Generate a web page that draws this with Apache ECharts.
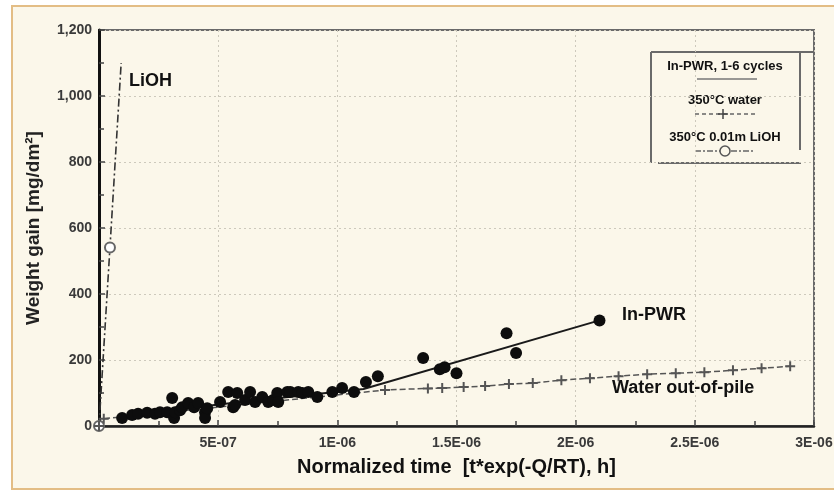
<!DOCTYPE html>
<html>
<head>
<meta charset="utf-8">
<script src="https://cdn.jsdelivr.net/npm/echarts@6.0.0/dist/echarts.min.js"></script>
<style>
  html, body { margin: 0; padding: 0; background: #ffffff; overflow: hidden; }
  #frame {
    position: absolute; left: 11px; top: 5px; width: 830px; height: 481px;
    border: 2px solid #e3bd85; background: #fbf7ea;
  }
  #main { position: absolute; left: 0; top: 0; width: 834px; height: 495px; }
</style>
</head>
<body>
<div id="frame"></div>
<div id="main"></div>
<script>
// tick labels on the time axis (one per 5E-07)
const xTickLabels = ["", "5E-07", "1E-06", "1.5E-06", "2E-06", "2.5E-06", "3E-06"];

// In-PWR measured points (normalized time, weight gain)
const pwrTime = [
  9.7e-8, 1.39e-7, 1.64e-7, 2.02e-7, 2.35e-7, 2.56e-7, 2.86e-7, 3.07e-7, 3.15e-7, 3.19e-7,
  3.40e-7, 3.49e-7, 3.74e-7, 3.99e-7, 4.16e-7, 4.45e-7, 4.45e-7, 4.54e-7, 5.08e-7, 5.42e-7,
  5.63e-7, 5.71e-7, 5.80e-7, 6.13e-7, 6.34e-7, 6.55e-7, 6.85e-7, 7.10e-7, 7.31e-7, 7.48e-7,
  7.52e-7, 7.90e-7, 8.03e-7, 8.36e-7, 8.53e-7, 8.78e-7, 9.16e-7, 9.79e-7, 1.02e-6, 1.07e-6,
  1.12e-6, 1.17e-6, 1.36e-6, 1.43e-6, 1.45e-6, 1.50e-6, 1.71e-6, 1.75e-6, 2.10e-6
];
const pwrGain = [
  24, 33, 37, 40, 37, 42, 42, 85, 24, 42,
  48, 57, 70, 57, 70, 42, 24, 54, 73, 103,
  57, 64, 100, 79, 103, 73, 88, 73, 79, 100,
  73, 103, 103, 103, 100, 103, 88, 103, 115, 103,
  133, 151, 206, 172, 178, 160, 281, 221, 320
];

// In-PWR fitted line
const pwrFitTime = [8.0e-8, 5.0e-7, 1.11e-6, 2.10e-6];
const pwrFitGain = [25, 65, 112, 320];

// 350C water, out-of-pile
const waterTime = [0, 2.0e-8, 1.20e-6, 1.38e-6, 1.44e-6, 1.53e-6, 1.62e-6, 1.72e-6, 1.82e-6, 1.94e-6,
  2.06e-6, 2.18e-6, 2.30e-6, 2.42e-6, 2.54e-6, 2.66e-6, 2.78e-6, 2.90e-6];
const waterGain = [0, 22, 109, 114, 115, 118, 121, 127, 130, 139,
  145, 151, 157, 160, 163, 169, 175, 181];

// 350C 0.01m LiOH
const liohTime = [0, 4.6e-8, 9.3e-8];
const liohGain = [0, 541, 1100];

function pairs(xs, ys) {
  return xs.map(function (x, i) { return [x, ys[i]]; });
}

const plusPath = "path://M4,0h2v4h4v2h-4v4h-2v-4h-4v-2h4z";
const labelFont = "Liberation Sans";

var myChart = echarts.init(document.getElementById("main"));

var liohData = pairs(liohTime, liohGain);
liohData[liohData.length - 1] = { value: liohData[liohData.length - 1], symbol: "none" };

function txt(x, y, s, size, align) {
  return {
    type: "text", x: x, y: y,
    style: {
      text: s, font: "bold " + size + "px " + labelFont, fill: "#111",
      align: align || "left", verticalAlign: "middle",
    },
  };
}
function seg(x1, y1, x2, y2, color, dash) {
  return {
    type: "line", shape: { x1: x1, y1: y1, x2: x2, y2: y2 },
    style: { stroke: color, lineWidth: 1.5, lineDash: dash || null },
  };
}

var option = {
  animation: false,
  textStyle: { fontFamily: labelFont },
  grid: {
    left: 99, top: 30, right: 20, bottom: 69,
    show: true, borderColor: "#6a6a6a", borderWidth: 2,
    containLabel: false, outerBoundsMode: "none",
  },
  xAxis: {
    type: "value",
    min: 0, max: 3e-6, interval: 5e-7,
    name: "Normalized time  [t*exp(-Q/RT), h]",
    nameLocation: "middle", nameGap: 31,
    nameTextStyle: { fontSize: 20, fontWeight: "bold", color: "#111" },
    axisLine: { show: true, lineStyle: { color: "#222", width: 2.5 } },
    axisTick: { show: true, inside: true, length: 6, lineStyle: { color: "#444", width: 1.5 } },
    minorTick: { show: true, splitNumber: 2, length: 5, lineStyle: { color: "#444", width: 1.5 } },
    axisLabel: {
      margin: 10, fontSize: 14, fontWeight: "bold", color: "#3a3a3a",
      formatter: function (v) { return xTickLabels[Math.round(v / 5e-7)] || ""; },
    },
    splitLine: {
      show: true,
      lineStyle: { color: "#cdc9bc", width: 1, type: [2, 3] },
    },
  },
  yAxis: {
    type: "value",
    min: 0, max: 1200, interval: 200,
    name: "Weight gain [mg/dm²]",
    nameLocation: "middle", nameGap: 56,
    nameTextStyle: { fontSize: 19, fontWeight: "bold", color: "#222" },
    axisLine: { show: true, lineStyle: { color: "#111", width: 3 } },
    axisTick: { show: true, inside: true, length: 6, lineStyle: { color: "#444", width: 1.5 } },
    minorTick: { show: true, splitNumber: 2, length: 5, lineStyle: { color: "#444", width: 1.5 } },
    axisLabel: {
      margin: 7, fontSize: 14, fontWeight: "bold", color: "#3a3a3a",
      formatter: function (v) { return v.toLocaleString("en-US"); },
    },
    splitLine: {
      show: true,
      interval: function (i, v) { return v > 0 && v <= 800; },
      lineStyle: { color: "#cdc9bc", width: 1, type: [2, 3] },
    },
  },
  graphic: [
    // legend box
    { type: "line", shape: { x1: 651, y1: 52, x2: 814, y2: 52 }, style: { stroke: "#6a6a6a", lineWidth: 2 } },
    { type: "line", shape: { x1: 651, y1: 52, x2: 651, y2: 163 }, style: { stroke: "#6a6a6a", lineWidth: 2 } },
    { type: "line", shape: { x1: 800, y1: 52, x2: 800, y2: 150 }, style: { stroke: "#6a6a6a", lineWidth: 2 } },
    { type: "line", shape: { x1: 658, y1: 163, x2: 801, y2: 163 }, style: { stroke: "#6a6a6a", lineWidth: 2 } },
    txt(725, 66, "In-PWR, 1-6 cycles", 13, "center"),
    seg(697, 79, 757, 79, "#777"),
    txt(725, 100, "350°C water", 13, "center"),
    seg(695, 114, 755, 114, "#666", [4, 3]),
    seg(718, 114, 728, 114, "#444"),
    seg(723, 109, 723, 119, "#444"),
    txt(725, 137, "350°C 0.01m LiOH", 13, "center"),
    seg(695, 151, 755, 151, "#666", [6, 2, 2, 2]),
    { type: "circle", shape: { cx: 725, cy: 151, r: 5 }, style: { stroke: "#555", lineWidth: 1.5, fill: "#fbf7ea" } },
    // curve labels
    txt(129, 81, "LiOH", 18),
    txt(622, 315, "In-PWR", 18),
    txt(612, 388, "Water out-of-pile", 18),
  ],
  series: [
    {
      name: "350°C 0.01m LiOH",
      type: "line",
      data: liohData,
      symbol: "emptyCircle",
      symbolSize: 10,
      lineStyle: { color: "#333", width: 1.6, type: [8, 3, 2, 3] },
      itemStyle: { color: "#666", borderWidth: 1.2 },
      z: 3,
    },
    {
      name: "350°C water",
      type: "line",
      data: pairs(waterTime, waterGain),
      symbol: plusPath,
      symbolSize: 10,
      showAllSymbol: true,
      lineStyle: { color: "#555", width: 1.5, type: [6, 3] },
      itemStyle: { color: "#555" },
      z: 3,
    },
    {
      name: "In-PWR fit",
      type: "line",
      data: pairs(pwrFitTime, pwrFitGain),
      symbol: "none",
      lineStyle: { color: "#1a1a1a", width: 2 },
      z: 4,
    },
    {
      name: "In-PWR, 1-6 cycles",
      type: "scatter",
      data: pairs(pwrTime, pwrGain),
      symbolSize: 12,
      itemStyle: { color: "#0d0d0d", opacity: 1 },
      z: 5,
    },
  ],
};

myChart.setOption(option);
</script>
</body>
</html>
